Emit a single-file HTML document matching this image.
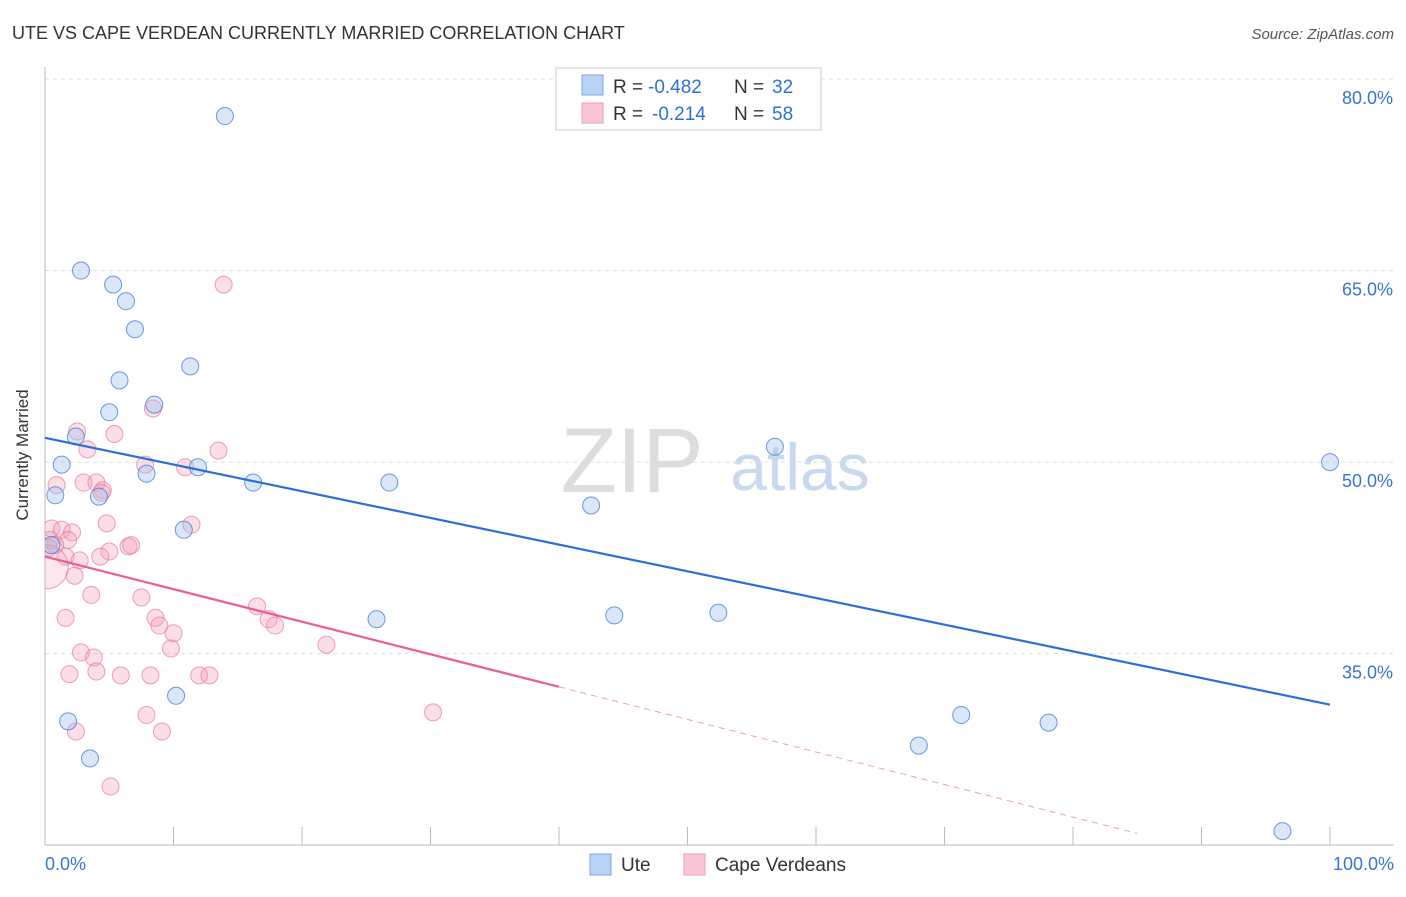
<!DOCTYPE html>
<html><head><meta charset="utf-8">
<style>
body{margin:0;background:#fff;font-family:"Liberation Sans",sans-serif;}
svg text{font-family:"Liberation Sans",sans-serif;}
</style></head>
<body>
<svg id="chart" width="1406" height="892">
<defs><clipPath id="plotclip"><rect x="45" y="60" width="1360" height="785"/></clipPath></defs>
<text x="12" y="39" font-size="18" fill="#333">UTE VS CAPE VERDEAN CURRENTLY MARRIED CORRELATION CHART</text>
<text x="1394" y="39" font-size="15" fill="#555" font-style="italic" text-anchor="end">Source: ZipAtlas.com</text>
<text x="28" y="455" font-size="17" fill="#333" transform="rotate(-90 28 455)" text-anchor="middle">Currently Married</text>
<text x="632" y="492" font-size="92" fill="#ddd" text-anchor="middle" font-family="Liberation Serif">ZIP</text>
<text x="800" y="490" font-size="66" fill="#c8d8ef" text-anchor="middle">atlas</text>
<g id="grid"></g>
<g id="pts" clip-path="url(#plotclip)"></g>
<g id="lines"></g>
<g>
<rect x="556" y="68" width="265" height="62" fill="#fff" stroke="#ccc"/>
<rect x="582" y="75" width="21" height="20" fill="#b8d3f5" stroke="#7aa6e0"/>
<rect x="582" y="103" width="21" height="20" fill="#f9c6d6" stroke="#ee9ab5"/>
<text x="613" y="93" font-size="19" fill="#333">R =</text>
<text x="648" y="93" font-size="19" fill="#2f6fd6">-0.482</text>
<text x="734" y="93" font-size="19" fill="#333">N =</text>
<text x="772" y="93" font-size="19" fill="#2f6fd6">32</text>
<text x="613" y="120" font-size="19" fill="#333">R =</text>
<text x="652" y="120" font-size="19" fill="#2f6fd6">-0.214</text>
<text x="734" y="120" font-size="19" fill="#333">N =</text>
<text x="772" y="120" font-size="19" fill="#2f6fd6">58</text>
</g>
<g>
<rect x="590" y="854" width="21" height="21" fill="#b8d3f5" stroke="#7aa6e0"/>
<text x="621" y="871" font-size="19" fill="#333">Ute</text>
<rect x="684" y="854" width="21" height="21" fill="#f9c6d6" stroke="#ee9ab5"/>
<text x="715" y="871" font-size="19" fill="#333">Cape Verdeans</text>
</g>
</svg>
<script>
const yTicks=[80,65,50,35];
const yTickLabels=["80.0%","65.0%","50.0%","35.0%"];
const xTickLabels=["0.0%","100.0%"];
const uteX=[14.0,2.8,5.3,6.3,7.0,11.3,5.8,8.5,5.0,2.4,1.3,7.9,11.9,16.2,26.8,56.8,100,0.8,4.2,10.8,42.5,25.8,44.3,52.4,10.2,1.8,3.5,71.3,68.0,78.1,96.3,0.5];
const uteY=[77.1,65.0,63.9,62.6,60.4,57.5,56.4,54.5,53.9,52.0,49.8,49.1,49.6,48.4,48.4,51.2,50.0,47.4,47.3,44.7,46.6,37.7,38.0,38.2,31.7,29.7,26.8,30.2,27.8,29.6,21.1,43.5];
const capeX=[13.9,8.4,2.5,5.4,3.3,13.5,7.8,10.9,0.9,3.0,4.0,4.5,4.4,4.8,11.4,0.5,1.3,2.1,0.4,1.8,0.8,0.3,6.5,6.7,5.0,4.3,1.6,2.7,2.3,3.6,7.5,1.6,16.5,8.6,8.9,17.4,17.9,10.0,9.8,21.9,2.8,3.8,1.9,4.0,5.9,8.2,12.0,12.8,7.9,30.2,2.4,9.1,5.1,0.1];
const capeY=[63.9,54.2,52.4,52.2,51.0,50.9,49.8,49.6,48.2,48.4,48.4,47.8,47.6,45.2,45.1,44.8,44.7,44.5,43.9,43.9,43.5,43.3,43.4,43.5,43.0,42.6,42.6,42.3,41.1,39.6,39.4,37.8,38.7,37.8,37.2,37.7,37.2,36.6,35.4,35.7,35.1,34.7,33.4,33.6,33.3,33.3,33.3,33.3,30.2,30.4,28.9,28.9,24.6,41.8];
const uteTrend=[51.9,31.0];
const capeTrend=[42.6,-0.255];
const NS="http://www.w3.org/2000/svg";
const X=v=>45+v*12.85, Y=v=>79+(80-v)*12.77;
function mk(t,a,p){const e=document.createElementNS(NS,t);for(const k in a)e.setAttribute(k,a[k]);p.appendChild(e);return e;}
const grid=document.getElementById('grid');
yTicks.forEach((t,i)=>{
 const l=mk('line',{x1:45,x2:1394,y1:Y(t),y2:Y(t),stroke:'#ddd','stroke-dasharray':'4,4'},grid);
 
 
 const tx=mk('text',{x:1393,y:Y(t)+25,'font-size':18,fill:'#3a73d4','text-anchor':'end'},grid);
 tx.textContent=yTickLabels[i];
 
 
});
mk('line',{x1:45,x2:45,y1:67,y2:845,stroke:'#bbb'},grid);
mk('line',{x1:45,x2:1394,y1:845,y2:845,stroke:'#bbb'},grid);
for(let i=0;i<=10;i++){const l=mk('line',{x1:X(i*10),x2:X(i*10),y1:827,y2:845,stroke:'#bbb'},grid);
 
 }
[[0,'start',45],[100,'end',1394]].forEach((d,i)=>{const t=mk('text',{x:d[2],y:870,'font-size':18,fill:'#3a73d4','text-anchor':d[1]},grid);t.textContent=xTickLabels[i];
 
 });
const pts=document.getElementById('pts');
capeX.forEach((x,i)=>{const big=i===capeX.length-1;
 const c=mk('circle',{cx:X(x),cy:Y(capeY[i]),r:big?22:8.5,fill:big?'rgba(244,160,186,0.25)':'rgba(244,160,186,0.35)',stroke:'rgba(232,120,155,0.7)','stroke-width':1},pts);
 
 });
uteX.forEach((x,i)=>{const c=mk('circle',{cx:X(x),cy:Y(uteY[i]),r:8.5,fill:'rgba(160,196,240,0.4)',stroke:'rgba(60,120,210,0.75)','stroke-width':1},pts);
 
 });
const ln=document.getElementById('lines');
const ut=mk('line',{x1:X(0),y1:Y(uteTrend[0]),x2:X(100),y2:Y(uteTrend[1]),stroke:'#2b6fd6','stroke-width':2.2},ln);


const cy=x=>capeTrend[0]+capeTrend[1]*x;
const c1=mk('line',{x1:X(0),y1:Y(cy(0)),x2:X(40),y2:Y(cy(40)),stroke:'#e8608e','stroke-width':2.2},ln);


const c2=mk('line',{x1:X(40),y1:Y(cy(40)),x2:X(85),y2:Y(cy(85)),stroke:'#e8a0b8','stroke-width':1,'stroke-dasharray':'6,5'},ln);


</script>
</body></html>
